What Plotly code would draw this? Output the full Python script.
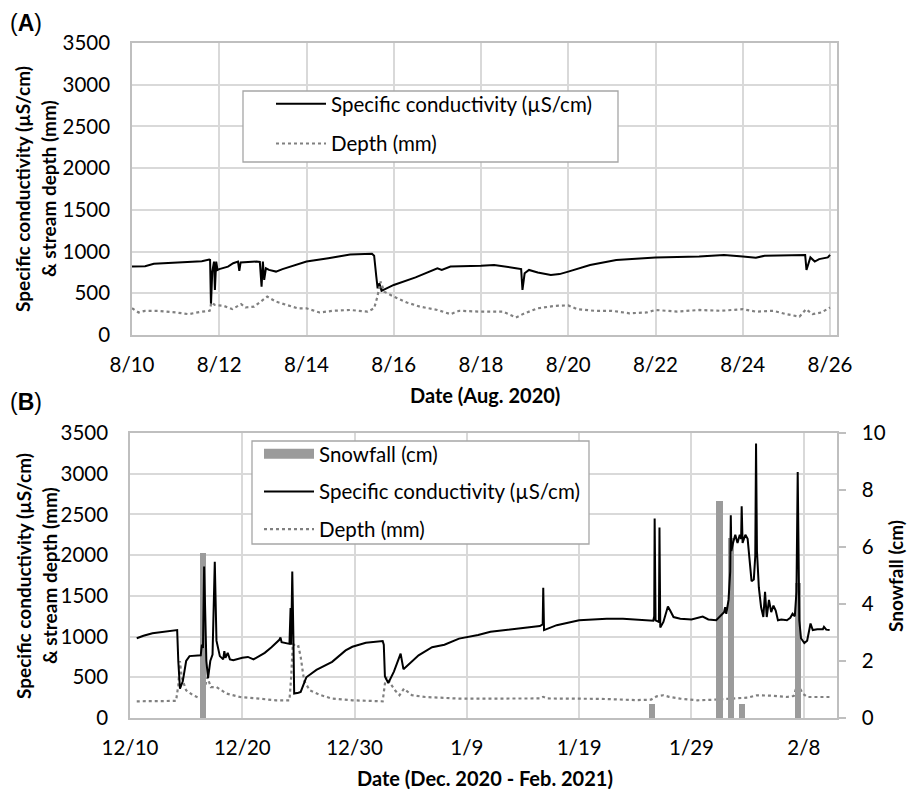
import pandas as pd
import plotly.graph_objects as go

# ---------------- Panel A data (Aug 2020) ----------------
a_start = "2020-08-10"
a_cond_day = [0.0, 0.3, 0.5, 0.8, 1.2, 1.6, 1.77, 1.79, 1.81, 1.84, 1.88, 1.90, 1.93, 1.96, 2.0, 2.2, 2.32,
              2.43, 2.46, 2.49, 2.85, 2.93, 2.97, 3.0, 3.03, 3.07, 3.14, 3.3, 3.45, 3.7, 4.0, 4.5, 5.0,
              5.5, 5.55, 5.6, 5.63, 5.67, 5.72, 5.8, 6.0, 6.5, 6.8, 7.0, 7.1, 7.3, 8.0, 8.3, 8.8, 8.92,
              8.95, 9.0, 9.1, 9.3, 9.6, 9.8, 10.0, 10.5, 11.1, 12.0, 13.0, 13.57, 14.0, 14.3, 14.5,
              15.4, 15.43, 15.46, 15.55, 15.65, 15.75, 15.95, 16.0]
a_cond_val = [820, 825, 855, 862, 870, 885, 905, 900, 360, 760, 880, 540, 880, 780, 790, 820, 860,
              880, 770, 870, 880, 875, 580, 880, 660, 800, 780, 760, 790, 830, 880, 920, 965,
              975, 950, 700, 560, 620, 530, 550, 600, 690, 760, 800, 780, 820, 830, 840, 800, 790,
              540, 740, 780, 750, 720, 730, 760, 840, 900, 928, 940, 960, 940, 925, 950,
              960, 960, 780, 930, 880, 910, 930, 960]
a_depth_day = [0.0, 0.15, 0.3, 0.6, 1.0, 1.3, 1.6, 1.78, 1.82, 1.9, 2.1, 2.3, 2.5, 2.6, 2.8, 2.95, 3.1,
               3.3, 3.5, 3.8, 4.0, 4.3, 4.6, 5.0, 5.4, 5.55, 5.62, 5.7, 5.78, 6.0, 6.3, 6.6, 7.0, 7.3,
               7.5, 8.0, 8.5, 8.8, 9.0, 9.3, 9.7, 10.0, 10.2, 10.6, 11.0, 11.4, 11.8, 12.0, 12.5, 13.0,
               13.5, 14.0, 14.3, 14.7, 15.0, 15.3, 15.45, 15.6, 15.8, 16.0]
a_depth_val = [320, 270, 290, 290, 270, 250, 280, 290, 390, 360, 350, 310, 370, 330, 340, 400, 460,
               400, 370, 320, 320, 270, 290, 300, 280, 320, 450, 640, 520, 460, 390, 340, 300, 250,
               290, 280, 280, 210, 260, 320, 350, 355, 310, 290, 290, 260, 270, 300, 280, 300,
               290, 310, 280, 290, 250, 220, 310, 250, 270, 330]

# ---------------- Panel B data (Dec 2020 - Feb 2021) ----------------
b_start = "2020-12-10"
b_cond_day = [0.6, 0.9, 1.2, 2.0, 3.0, 4.1, 4.2, 4.3, 4.45, 4.7, 5.0, 5.3, 5.8, 6.3, 6.4, 6.5, 6.6, 6.68,
              6.8, 6.95, 7.15, 7.35, 7.48, 7.55, 7.7, 8.0, 8.3, 8.4, 8.5, 8.7, 8.9, 9.2, 10.0, 10.5,
              11.0, 12.0, 12.6, 13.3, 13.4, 13.5, 14.2, 14.3, 14.35, 14.45, 14.55, 14.62, 15.0, 15.2,
              15.7, 16.6, 18.0, 19.2, 19.8, 21.0, 22.5, 22.6, 22.7, 23.0, 23.5, 24.0, 24.1, 24.35,
              24.5, 25.7, 26.9, 28.0, 29.3, 30.0, 31.0, 32.1, 33.6, 35.3, 36.5, 36.75, 36.8, 36.87,
              38.0, 40.0, 41.0, 42.45, 43.9, 45.4, 46.6, 46.68, 46.72, 46.8, 47.1, 47.15, 47.22,
              47.5, 47.9, 48.1, 48.4, 49.0, 50.0, 51.0, 51.5, 52.2, 52.5, 52.9, 53.0, 53.1, 53.3,
              53.45, 53.5, 53.55, 53.7, 53.9, 54.1, 54.3, 54.42, 54.47, 54.55, 54.8, 55.0, 55.2,
              55.35, 55.55, 55.68, 55.75, 55.83, 56.0, 56.2, 56.4, 56.55, 56.7, 56.9, 57.1, 57.3,
              57.5, 57.7, 58.0, 58.5, 58.8, 59.0, 59.2, 59.35, 59.46, 59.52, 59.6, 59.75, 60.05,
              60.3, 60.6, 60.8, 61.2, 61.7, 61.8, 62.0, 62.3]
b_cond_val = [980, 1000, 1010, 1040, 1060, 1085, 1080, 700, 360, 450, 700, 760, 765, 770, 900, 860, 1860, 1200,
              700, 490, 700, 780, 1350, 1920, 950, 760, 720, 820, 740, 800, 720, 710, 740, 750,
              720, 800, 870, 960, 990, 930, 910, 1350, 900, 1800, 1000, 300, 310, 320,
              500, 590, 690, 830, 875, 925, 945, 900, 510, 430, 570, 770, 790, 600,
              620, 770, 870, 900, 975, 990, 1020, 1060, 1085, 1110, 1130, 1150, 1600, 1080,
              1140, 1200, 1210, 1220, 1220, 1210, 1195, 1250, 2450, 1200, 1180, 2340, 1110,
              1180, 1370, 1320, 1240, 1220, 1210, 1245, 1210, 1200, 1240, 1300, 1360, 1280, 1450,
              1800, 2490, 2050, 2150, 2250, 2150, 2250, 2200, 2600, 2150, 2250, 2200, 1950,
              1680, 1700, 1990, 3370, 2050, 1600, 1360, 1240, 1550, 1240, 1450, 1300, 1380,
              1320, 1200, 1210, 1200, 1230, 1280, 1250, 1550, 3020, 2200, 1200, 980, 920,
              950, 1160, 1080, 1090, 1090, 1120, 1085, 1080]
b_depth_day = [0.6, 2.0, 4.1, 4.3, 4.45, 4.6, 5.0, 5.6, 6.2, 6.5, 6.7, 6.9, 7.2, 7.7, 8.6, 9.8, 11.5, 13.0,
               14.2, 14.35, 14.5, 14.8, 15.0, 15.2, 15.5, 16.0, 17.0, 18.0, 19.8, 22.5, 22.7, 22.85,
               23.2, 23.6, 24.0, 24.4, 25.1, 26.3, 29.3, 33.0, 36.5, 36.8, 37.2, 42.0, 45.0, 46.4,
               46.9, 47.5, 48.0, 49.0, 50.5, 52.0, 54.3, 55.0, 55.8, 57.0, 58.5, 59.1, 59.4, 59.6,
               59.9, 60.3, 62.3]
b_depth_val = [205, 205, 210, 400, 700, 500, 340, 280, 238, 225, 400, 500, 380, 380, 300, 258, 238, 217,
               217, 500, 914, 870, 880, 750, 460, 340, 280, 238, 217, 205, 420, 504,
               420, 340, 280, 360, 280, 258, 238, 238, 240, 260, 240, 235, 220, 225,
               266, 279, 260, 238, 217, 225, 238, 250, 279, 275, 258, 270, 400, 380,
               300, 258, 258]
snow_dates = ["2020-12-16", "2021-01-25", "2021-01-31", "2021-02-01", "2021-02-02", "2021-02-07"]
snow_cm = [5.8, 0.5, 7.6, 6.3, 0.5, 4.75]

a_xtitle = "Date (Aug. 2020)"
b_xtitle = "Date (Dec. 2020 - Feb. 2021)"
y_title_lines = ["Specific conductivity (µS/cm)", "& stream depth (mm)"]


def to_time(start, days):
    return pd.Timestamp(start) + pd.to_timedelta(days, unit="D")


W, H = 907, 789
FONT = "Lato"
DAY = 86400000
GRID = "#d9d9d9"
AXLINE = "#bfbfbf"
DEPTH_COL = "#808080"
BAR_COL = "#9b9b9b"
LEG_BORDER = "#a6a6a6"


def px_x(p):
    return p / W


def px_y(p):
    return 1 - p / H


fig = go.Figure()

# Panel A
fig.add_trace(go.Scatter(x=to_time(a_start, a_cond_day), y=a_cond_val, mode="lines",
                         line=dict(color="black", width=2), name="Specific conductivity (µS/cm)",
                         xaxis="x", yaxis="y", legend="legend", legendgroup="a1", legendrank=1))
fig.add_trace(go.Scatter(x=to_time(a_start, a_depth_day), y=a_depth_val, mode="lines",
                         line=dict(color=DEPTH_COL, width=2.2, dash="dot"), name="Depth (mm)",
                         xaxis="x", yaxis="y", legend="legend", legendgroup="a2", legendrank=2))

# Panel B
fig.add_trace(go.Scatter(x=to_time(b_start, b_depth_day), y=b_depth_val, mode="lines",
                         line=dict(color=DEPTH_COL, width=2.2, dash="dot"), name="Depth (mm)",
                         xaxis="x2", yaxis="y2", legend="legend2", legendgroup="b3", legendrank=3))
fig.add_trace(go.Bar(x=snow_dates, y=snow_cm, xperiod=DAY, xperiodalignment="middle",
                     width=0.56 * DAY, marker=dict(color=BAR_COL, line=dict(width=0)),
                     name="Snowfall (cm)", showlegend=False,
                     xaxis="x2", yaxis="y3"))
fig.add_trace(go.Scatter(x=[None], y=[None], mode="lines",
                         line=dict(color=BAR_COL, width=11), name="Snowfall (cm)",
                         xaxis="x2", yaxis="y3", legend="legend2", legendgroup="b1", legendrank=1))
fig.add_trace(go.Scatter(x=to_time(b_start, b_cond_day), y=b_cond_val, mode="lines",
                         line=dict(color="black", width=2), name="Specific conductivity (µS/cm)",
                         xaxis="x2", yaxis="y4", legend="legend2", legendgroup="b2", legendrank=2))

tickfont = dict(family=FONT, size=20.5, color="black")
common_x = dict(type="date", tickformat="%-m/%-d", showgrid=True, gridcolor=GRID, gridwidth=1.5,
                showline=True, linecolor=AXLINE, linewidth=1.5, mirror=True, ticks="",
                tickfont=tickfont, ticklabelstandoff=11, zeroline=False, automargin=False)
common_y = dict(range=[0, 3500], dtick=500, showgrid=True, gridcolor=GRID, gridwidth=1.5,
                showline=True, linecolor=AXLINE, linewidth=1.5, mirror=True, ticks="",
                tickfont=tickfont, ticklabelstandoff=16, zeroline=False, automargin=False)

legfont = dict(family=FONT, size=20.5, color="black")
fig.update_layout(
    width=W, height=H, margin=dict(l=0, r=0, t=0, b=0),
    paper_bgcolor="white", plot_bgcolor="white",
    font=dict(family=FONT, color="black"),
    bargap=0,
    xaxis=dict(domain=[px_x(132), px_x(837)], anchor="y",
               range=["2020-08-10", "2020-08-26 03:50"], tick0="2020-08-10", dtick=2 * DAY, **common_x),
    yaxis=dict(domain=[px_y(335), px_y(43)], anchor="x", **common_y),
    xaxis2=dict(domain=[px_x(130), px_x(837)], anchor="y2",
                range=["2020-12-10", "2021-02-10 23:00"], tick0="2020-12-10", dtick=10 * DAY, **common_x),
    yaxis2=dict(domain=[px_y(718), px_y(433)], anchor="x2", **common_y),
    yaxis3=dict(overlaying="y2", anchor="x2", side="right", range=[0, 10], dtick=2, showgrid=False,
                showline=True, linecolor=AXLINE, linewidth=1.5, ticks="outside", ticklen=7,
                tickcolor=AXLINE, tickwidth=1.5, tickfont=tickfont, ticklabelstandoff=12,
                zeroline=False, automargin=False),
    yaxis4=dict(overlaying="y2", anchor="x2", range=[0, 3500], visible=False, showgrid=False,
                zeroline=False),
    legend=dict(x=px_x(271), y=px_y(84), xanchor="left", yanchor="top", bgcolor="rgba(0,0,0,0)",
                borderwidth=0, font=legfont, itemwidth=50, tracegroupgap=10, traceorder="grouped"),
    legend2=dict(x=px_x(259), y=px_y(434), xanchor="left", yanchor="top", bgcolor="rgba(0,0,0,0)",
                 borderwidth=0, font=legfont, itemwidth=50, tracegroupgap=8, traceorder="grouped"),
    shapes=[
        dict(type="rect", xref="paper", yref="paper", x0=px_x(243), x1=px_x(618), y0=px_y(162), y1=px_y(91),
             line=dict(color=LEG_BORDER, width=1.3), fillcolor="white", layer="above"),
        dict(type="rect", xref="paper", yref="paper", x0=px_x(252), x1=px_x(589), y0=px_y(544), y1=px_y(441),
             line=dict(color=LEG_BORDER, width=1.3), fillcolor="white", layer="above"),
    ],
)

ann = []
bold_y = dict(family=FONT, size=19, color="black")
bold_x = dict(family=FONT, size=20, color="black")
for yc in (189, 576):
    ann.append(dict(text="<b>" + y_title_lines[0] + "</b>", x=px_x(23), y=px_y(yc), textangle=-90, font=bold_y))
    ann.append(dict(text="<b>" + y_title_lines[1] + "</b>", x=px_x(49), y=px_y(yc), textangle=-90, font=bold_y))
ann.append(dict(text="<b>" + a_xtitle + "</b>", x=px_x(484.5), y=px_y(395), font=bold_x))
ann.append(dict(text="<b>" + b_xtitle + "</b>", x=px_x(484.5), y=px_y(778), font=bold_x))
ann.append(dict(text="<b>Snowfall (cm)</b>", x=px_x(895), y=px_y(576), textangle=-90, font=bold_y))
panel_font = dict(family="Liberation Sans", size=23, color="black")
ann.append(dict(text="(<b>A</b>)", x=px_x(8), y=px_y(23), xanchor="left", font=panel_font))
ann.append(dict(text="(<b>B</b>)", x=px_x(8), y=px_y(402), xanchor="left", font=panel_font))
for a in ann:
    a.update(xref="paper", yref="paper", showarrow=False)
    a.setdefault("xanchor", "center")
    a.setdefault("yanchor", "middle")
fig.update_layout(annotations=ann)

fig.write_html("out.html", config={"displayModeBar": False},
               post_script="document.body.style.margin='0px';")
